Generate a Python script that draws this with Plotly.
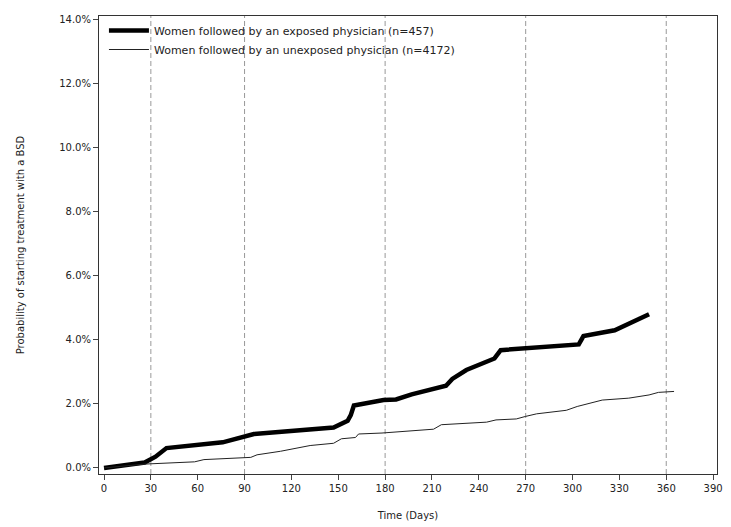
import plotly.graph_objects as go

# Data (days, cumulative probability in %)
exposed_days = [0, 26, 33, 40, 76, 96, 147, 156, 158, 160, 179, 187, 197, 219, 223, 232, 250, 254, 304, 307, 327, 349]
exposed_pct = [0.0, 0.17, 0.35, 0.62, 0.80, 1.06, 1.26, 1.47, 1.65, 1.95, 2.12, 2.14, 2.30, 2.57, 2.78, 3.06, 3.42, 3.68, 3.86, 4.12, 4.30, 4.80]

unexposed_days = [0, 26, 58, 64, 94, 98, 113, 132, 147, 152, 161, 163, 178, 188, 211, 216, 245, 251, 264, 270, 277, 296, 303, 319, 336, 349, 355, 365]
unexposed_pct = [0.0, 0.12, 0.19, 0.26, 0.33, 0.41, 0.52, 0.70, 0.77, 0.91, 0.95, 1.06, 1.09, 1.12, 1.21, 1.35, 1.43, 1.50, 1.53, 1.61, 1.69, 1.80, 1.92, 2.12, 2.18, 2.28, 2.36, 2.39]

ref_days = [30, 90, 180, 270, 360]
x_ticks = list(range(0, 391, 30))
y_ticks = [0, 2, 4, 6, 8, 10, 12, 14]
y_labels = [f"{v:.1f}%" for v in y_ticks]

FONT = "DejaVu Sans"

fig = go.Figure()
for d in ref_days:
    fig.add_vline(x=d, line=dict(color="#999999", width=1, dash="5px,3px"), layer="below")

fig.add_trace(go.Scatter(x=exposed_days, y=exposed_pct, mode="lines",
                         line=dict(color="black", width=4.5),
                         name="Women followed by an exposed physician (n=457)"))
fig.add_trace(go.Scatter(x=unexposed_days, y=unexposed_pct, mode="lines",
                         line=dict(color="#222222", width=1),
                         name="Women followed by an unexposed physician (n=4172)"))

fig.update_layout(
    width=731, height=527,
    margin=dict(l=99, r=8, t=16, b=51),
    paper_bgcolor="white", plot_bgcolor="white",
    font=dict(family=FONT, size=10, color="#222222"),
    showlegend=True,
    legend=dict(x=0.008, y=1.0, xanchor="left", yanchor="top",
                bgcolor="rgba(0,0,0,0)", borderwidth=0,
                font=dict(family=FONT, size=11, color="#222222"),
                tracegroupgap=0, itemwidth=40),
    xaxis=dict(range=[-3.2, 392.5], tickvals=x_ticks, ticks="outside", ticklen=5,
               tickcolor="#444444", showgrid=False, zeroline=False,
               showline=True, linecolor="#333333", linewidth=1, mirror=True,
               title=dict(text="Time (Days)", font=dict(size=10), standoff=18)),
    yaxis=dict(range=[-0.19, 14.12], tickvals=y_ticks, ticktext=y_labels,
               ticks="outside", ticklen=5, tickcolor="#444444", showgrid=False,
               zeroline=False, showline=True, linecolor="#333333", linewidth=1, mirror=True,
               title=dict(text="Probability of starting treatment with a BSD",
                          font=dict(size=10), standoff=32)),
)

fig.write_html("out.html")
